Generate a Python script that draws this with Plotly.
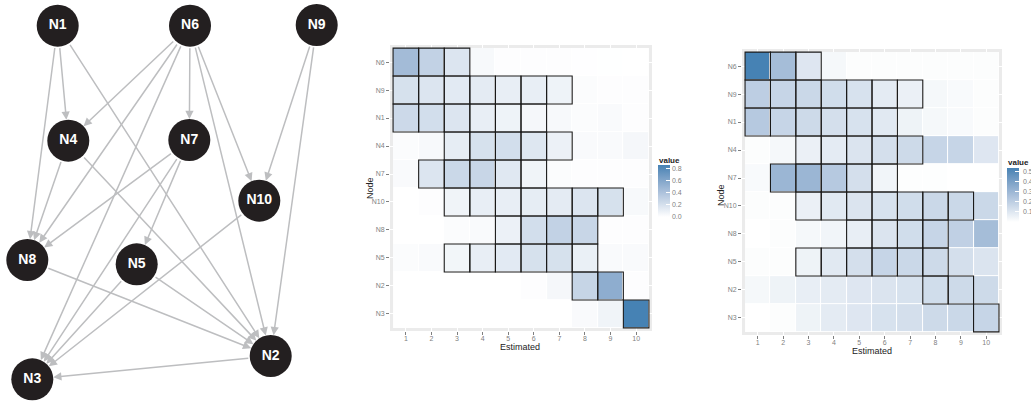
import numpy as np
import plotly.graph_objects as go

W, H = 1031, 403

# ---------------- data ----------------
nodes = ["N1", "N6", "N9", "N4", "N7", "N10", "N8", "N5", "N2", "N3"]
edges = [("N1", "N4"), ("N1", "N8"), ("N1", "N2"),
         ("N6", "N4"), ("N6", "N8"), ("N6", "N3"), ("N6", "N7"), ("N6", "N2"), ("N6", "N10"),
         ("N9", "N10"), ("N9", "N2"),
         ("N4", "N8"), ("N4", "N2"),
         ("N7", "N8"), ("N7", "N3"), ("N7", "N5"),
         ("N10", "N3"),
         ("N8", "N2"),
         ("N5", "N3"), ("N5", "N2"),
         ("N2", "N3")]

row_nodes = ["N6", "N9", "N1", "N4", "N7", "N10", "N8", "N5", "N2", "N3"]
positions = [1, 2, 3, 4, 5, 6, 7, 8, 9, 10]
# admissible position range (outlined cells)
range_lo = [1, 1, 1, 3, 2, 3, 5, 3, 8, 10]
range_hi = [3, 7, 6, 7, 6, 9, 8, 8, 9, 10]

z_left = [
    [0.45, 0.30, 0.17, 0.04, 0.01, 0.01, 0.01, 0.005, 0.003, 0.002],
    [0.20, 0.17, 0.14, 0.13, 0.11, 0.11, 0.08, 0.02, 0.01, 0.01],
    [0.25, 0.22, 0.17, 0.11, 0.08, 0.05, 0.04, 0.02, 0.03, 0.01],
    [0.02, 0.04, 0.12, 0.20, 0.22, 0.16, 0.09, 0.03, 0.03, 0.05],
    [0.03, 0.17, 0.26, 0.27, 0.15, 0.07, 0.02, 0.01, 0.01, 0.01],
    [0.00, 0.01, 0.07, 0.11, 0.11, 0.12, 0.13, 0.17, 0.20, 0.04],
    [0.00, 0.00, 0.02, 0.03, 0.09, 0.22, 0.30, 0.27, 0.01, 0.01],
    [0.02, 0.03, 0.06, 0.11, 0.14, 0.20, 0.20, 0.10, 0.03, 0.03],
    [0.00, 0.00, 0.00, 0.00, 0.00, 0.01, 0.05, 0.28, 0.55, 0.01],
    [0.00, 0.00, 0.00, 0.00, 0.00, 0.00, 0.00, 0.03, 0.07, 0.86],
]
z_right = [
    [0.53, 0.27, 0.10, 0.03, 0.01, 0.01, 0.01, 0.01, 0.01, 0.01],
    [0.20, 0.17, 0.16, 0.14, 0.12, 0.08, 0.06, 0.03, 0.02, 0.01],
    [0.22, 0.17, 0.15, 0.13, 0.12, 0.09, 0.05, 0.03, 0.02, 0.01],
    [0.01, 0.03, 0.06, 0.08, 0.11, 0.13, 0.15, 0.17, 0.17, 0.10],
    [0.02, 0.30, 0.30, 0.22, 0.13, 0.04, 0.005, 0.005, 0.00, 0.00],
    [0.01, 0.01, 0.06, 0.09, 0.11, 0.12, 0.14, 0.16, 0.16, 0.16],
    [0.00, 0.01, 0.03, 0.04, 0.07, 0.11, 0.14, 0.17, 0.19, 0.27],
    [0.01, 0.01, 0.05, 0.09, 0.13, 0.17, 0.16, 0.15, 0.13, 0.11],
    [0.03, 0.05, 0.07, 0.08, 0.10, 0.11, 0.12, 0.14, 0.15, 0.15],
    [0.00, 0.01, 0.05, 0.08, 0.10, 0.12, 0.13, 0.15, 0.16, 0.17],
]
cb_ticks_left = [0.0, 0.2, 0.4, 0.6, 0.8]
cb_ticks_right = [0.1, 0.2, 0.3, 0.4, 0.5]

# ---------------- layout (pixel) ----------------
node_xy = {"N1": (57.7, 25.7), "N6": (190, 25.7), "N9": (316.7, 25),
           "N4": (68.3, 140.7), "N7": (189.3, 140), "N10": (259.3, 200.7),
           "N8": (27.3, 260), "N5": (136.7, 264.3), "N2": (270.7, 356),
           "N3": (32.3, 379.3)}
R = 21
FONT = "Liberation Sans, Arial"


# ---------------- colour scale (Lab interpolation white -> steelblue) ----------------
def srgb_to_lin(c):
    c = c / 255.0
    return np.where(c <= 0.04045, c / 12.92, ((c + 0.055) / 1.055) ** 2.4)


def lin_to_srgb(c):
    c = np.clip(c, 0, 1)
    return np.where(c <= 0.0031308, 12.92 * c, 1.055 * c ** (1 / 2.4) - 0.055) * 255


M = np.array([[0.4124, 0.3576, 0.1805], [0.2126, 0.7152, 0.0722], [0.0193, 0.1192, 0.9505]])
Mi = np.linalg.inv(M)
WP = np.array([0.95047, 1.0, 1.08883])


def f(t):
    return np.where(t > (6 / 29) ** 3, np.cbrt(t), t / (3 * (6 / 29) ** 2) + 4 / 29)


def fi(t):
    return np.where(t > 6 / 29, t ** 3, 3 * (6 / 29) ** 2 * (t - 4 / 29))


def rgb_to_lab(rgb):
    xyz = M @ srgb_to_lin(np.array(rgb, float)) / WP
    fx, fy, fz = f(xyz)
    return np.array([116 * fy - 16, 500 * (fx - fy), 200 * (fy - fz)])


def lab_to_rgb(lab):
    L, a, b = lab
    fy = (L + 16) / 116
    xyz = np.array([fi(fy + a / 500), fi(fy), fi(fy - b / 200)]) * WP
    return lin_to_srgb(Mi @ xyz)


lab0 = rgb_to_lab([255, 255, 255])
lab1 = rgb_to_lab([70, 130, 180])
cscale = []
for t in np.linspace(0, 1, 11):
    r, g, b = lab_to_rgb(lab0 + t * (lab1 - lab0))
    cscale.append([float(t), f"rgb({int(round(r))},{int(round(g))},{int(round(b))})"])

fig = go.Figure()

# ---------------- network ----------------
annotations = []
for s, t in edges:
    x0, y0 = node_xy[s]
    x1, y1 = node_xy[t]
    annotations.append(dict(x=x1, y=y1, ax=x0, ay=y0, xref="x3", yref="y3", axref="x3", ayref="y3",
                            text="", showarrow=True, arrowhead=2, arrowsize=1.1, arrowwidth=1.5,
                            arrowcolor="#BDBEC0", standoff=R, startstandoff=R))
fig.add_trace(go.Scatter(
    x=[node_xy[n][0] for n in nodes], y=[node_xy[n][1] for n in nodes],
    mode="markers+text", text=[f"<b>{n}</b>" for n in nodes], textposition="middle center",
    textfont=dict(family=FONT, size=14, color="white"),
    marker=dict(size=2 * R, color="#231F20", line=dict(width=0)),
    xaxis="x3", yaxis="y3", hoverinfo="skip", showlegend=False))

# ---------------- heatmaps ----------------
rows = list(range(1, len(row_nodes) + 1))
panels = [
    dict(z=z_left, xa="x", ya="y", xdom=(390, 652), ydom=(45, 331), cbx=658, cby=(165, 217),
         ticks=cb_ticks_left, own_labels=True, xt=(520, 347), yt=(370, 188)),
    dict(z=z_right, xa="x2", ya="y2", xdom=(742, 1002), ydom=(49, 335), cbx=1007, cby=(168, 222),
         ticks=cb_ticks_right, own_labels=False, xt=(872, 351), yt=(721, 195)),
]
titlefont = dict(size=9, color="#222", family=FONT)
shapes = []
for k, p in enumerate(panels):
    cb_len = p["cby"][1] - p["cby"][0]
    zmin = float(np.min(p["z"]))
    zmax = float(np.max(p["z"]))
    fig.add_trace(go.Heatmap(
        z=p["z"], x=positions, y=rows, colorscale=cscale, xgap=1, ygap=1, zmin=zmin, zmax=zmax,
        xaxis=p["xa"], yaxis=p["ya"], hoverinfo="skip",
        colorbar=dict(x=p["cbx"] / W, xanchor="left", xpad=0, ypad=0,
                      y=1 - (p["cby"][0] + p["cby"][1]) / 2 / H, yanchor="middle",
                      len=cb_len, lenmode="pixels", thickness=12, outlinewidth=0,
                      tickvals=p["ticks"], ticktext=[f"{v:.1f}" for v in p["ticks"]],
                      showticklabels=p["own_labels"],
                      ticks="inside", ticklen=4, tickcolor="white", tickwidth=1,
                      tickfont=dict(size=7, color="#7F7F7F", family=FONT))))
    # grey panel frame + white area beneath tiles
    shapes.append(dict(type="rect", xref=p["xa"] + " domain", yref=p["ya"] + " domain",
                       x0=0, x1=1, y0=0, y1=1, fillcolor="#EBEBEB", line=dict(width=0), layer="below"))
    shapes.append(dict(type="rect", xref=p["xa"], yref=p["ya"], x0=0.5, x1=10.5, y0=0.5, y1=10.5,
                       fillcolor="white", line=dict(width=0), layer="below"))
    for i, (lo, hi) in enumerate(zip(range_lo, range_hi)):
        for j in range(lo, hi + 1):
            shapes.append(dict(type="rect", xref=p["xa"], yref=p["ya"],
                               x0=j - 0.5, x1=j + 0.5, y0=rows[i] - 0.5, y1=rows[i] + 0.5,
                               line=dict(color="#1A1A1A", width=1.1), fillcolor="rgba(0,0,0,0)",
                               layer="above"))
    if not p["own_labels"]:
        # labels of the right colour bar, partly running off the page as in the reference
        for v in p["ticks"]:
            ypx = p["cby"][1] - (v - zmin) / (zmax - zmin) * cb_len
            annotations.append(dict(xref="paper", yref="paper", x=(p["cbx"] + 14) / W, y=1 - ypx / H,
                                    xanchor="left", yanchor="middle", showarrow=False,
                                    text=f"{v:.1f}", font=dict(size=7, color="#7F7F7F", family=FONT)))
    # colour bar title
    annotations.append(dict(xref="paper", yref="paper", x=(p["cbx"] - 1) / W, y=1 - (p["cby"][0] - 5) / H,
                            xanchor="left", yanchor="middle", showarrow=False,
                            text="<b>value</b>", font=dict(size=8, color="#222", family=FONT)))
    # axis titles
    annotations.append(dict(xref="paper", yref="paper", x=p["xt"][0] / W, y=1 - p["xt"][1] / H,
                            xanchor="center", yanchor="middle", showarrow=False,
                            text="Estimated", font=titlefont))
    annotations.append(dict(xref="paper", yref="paper", x=p["yt"][0] / W, y=1 - p["yt"][1] / H,
                            xanchor="center", yanchor="middle", showarrow=False, textangle=-90,
                            text="Node", font=titlefont))

axfont = dict(size=7, color="#7F7F7F", family=FONT)
layout_axes = {}
for k, p in enumerate(panels):
    sx = "" if k == 0 else "2"
    layout_axes[f"xaxis{sx}"] = dict(
        domain=[p["xdom"][0] / W, p["xdom"][1] / W], range=[0.38, 10.62], anchor=p["ya"],
        tickvals=positions, ticks="outside", ticklen=3, tickcolor="#7F7F7F", tickfont=axfont,
        ticklabelstandoff=-2,
        showgrid=True, gridcolor="white", gridwidth=1, zeroline=False, showline=False,
        fixedrange=True, automargin=False)
    layout_axes[f"yaxis{sx}"] = dict(
        domain=[1 - p["ydom"][1] / H, 1 - p["ydom"][0] / H], range=[10.61, 0.39], anchor=p["xa"],
        tickvals=rows, ticktext=row_nodes, ticks="outside", ticklen=3, tickcolor="#7F7F7F",
        tickfont=axfont, showgrid=True, gridcolor="white", gridwidth=1,
        zeroline=False, showline=False, fixedrange=True, automargin=False)

fig.update_layout(
    width=W, height=H, margin=dict(l=0, r=0, t=0, b=0, autoexpand=False),
    paper_bgcolor="white", plot_bgcolor="rgba(0,0,0,0)",
    xaxis3=dict(domain=[0, 340 / W], range=[0, 340], visible=False, anchor="y3"),
    yaxis3=dict(domain=[0, 1], range=[H, 0], visible=False, anchor="x3"),
    annotations=annotations, shapes=shapes, showlegend=False,
    **layout_axes)

fig.write_html("out.html", config={"staticPlot": True},
               post_script="document.body.style.margin='0';document.body.style.overflow='hidden';")
